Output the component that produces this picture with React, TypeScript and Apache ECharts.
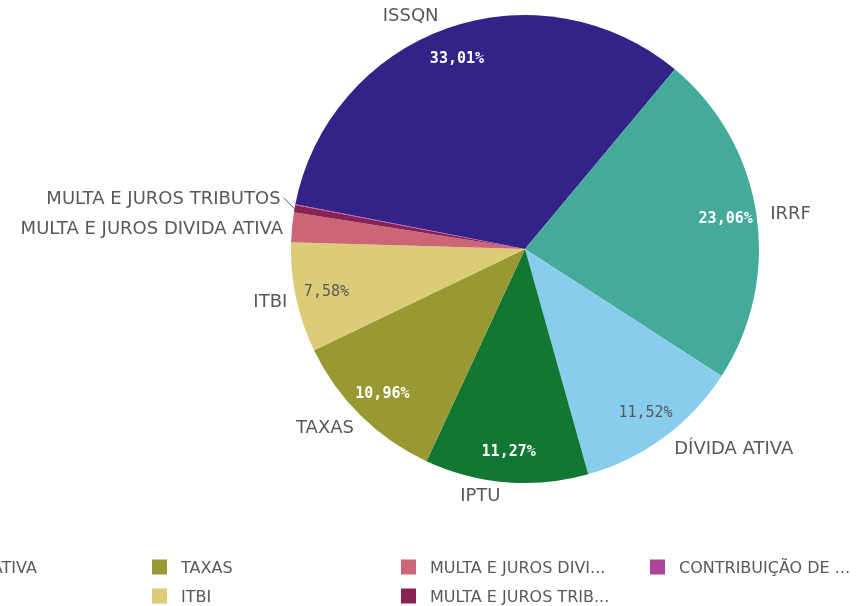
import React, { useEffect, useRef } from "react";
import * as echarts from "echarts";

const categories = [
  "ISSQN",
  "IRRF",
  "DÍVIDA ATIVA",
  "IPTU",
  "TAXAS",
  "ITBI",
  "MULTA E JUROS DIVIDA ATIVA",
  "MULTA E JUROS TRIBUTOS",
  "CONTRIBUIÇÃO DE MELHORIA",
];
const shares = [33.01, 23.06, 11.52, 11.27, 10.96, 7.58, 2.05, 0.5, 0.05];
const colors = [
  "#332288",
  "#44AA99",
  "#88CCEE",
  "#117733",
  "#999933",
  "#DDCC77",
  "#CC6677",
  "#882255",
  "#AA4499",
];
const percentLabelColors = ["#ffffff", "#ffffff", "#595959", "#ffffff", "#ffffff", "#595959", "", "", ""];
const showPercent = [true, true, true, true, true, true, false, false, false];
const showName = [true, true, true, true, true, true, true, true, false];
const legendColumns = [
  ["ISSQN", "IRRF"],
  ["DÍVIDA ATIVA", "IPTU"],
  ["TAXAS", "ITBI"],
  ["MULTA E JUROS DIVIDA ATIVA", "MULTA E JUROS TRIBUTOS"],
  ["CONTRIBUIÇÃO DE MELHORIA"],
];
const legendLefts = [-347, -98, 152, 401, 650];
// small vertical nudges of the outside name labels
const nameLabelDy = [-6, 0, 3, 3, 5, 1, 0, -10, 0];

const fmt = (v: number) => v.toFixed(2).replace(".", ",") + "%";

export default function App() {
  const ref = useRef<HTMLDivElement>(null);
  useEffect(() => {
    document.body.style.margin = "0";
    const chart = echarts.init(ref.current!, null, { renderer: "svg" });
    const center = [525, 249];
    const R = 234;
    chart.setOption({
      animation: false,
      color: colors,
      legend: legendColumns.map((col, i) => ({
        data: col,
        orient: "vertical",
        left: legendLefts[i],
        top: 558,
        padding: 0,
        itemGap: 11,
        itemWidth: 15,
        itemHeight: 15,
        icon: "rect",
        selectedMode: false,
        textStyle: {
          fontFamily: "DejaVu Sans",
          fontSize: 16,
          color: "#595959",
          lineHeight: 18,
          width: 181,
          overflow: "truncate",
          ellipsis: "...",
          padding: [0, 0, 0, 9],
        },
      })),
      series: [
        {
          type: "pie",
          center,
          radius: [0, R],
          startAngle: 169,
          clockwise: true,
          avoidLabelOverlap: true,
          itemStyle: { borderWidth: 0 },
          label: {
            show: true,
            position: "outside",
            formatter: "{b}",
            fontFamily: "DejaVu Sans",
            fontSize: 18,
            color: "#595959",
            distanceToLabelLine: 5,
          },
          labelLine: {
            show: false,
            length: 9,
            length2: 0,
            lineStyle: { color: "#595959", width: 1 },
          },
          labelLayout: (params: any) => {
            const i = params.dataIndex;
            const dy = nameLabelDy[i] || 0;
            if (i === 7) {
              const pts = params.labelLinePoints;
              const res: any = { dy, dx: -5 };
              if (pts && pts.length) {
                const p0 = pts[0];
                const p1 = [p0[0] - 11, p0[1] - 11];
                res.labelLinePoints = [p0, p1, p1];
              }
              return res;
            }
            return { dy };
          },
          emphasis: { disabled: true },
          data: categories.map((name, i) => ({
            name,
            value: shares[i],
            label: { show: showName[i] },
            labelLine: { show: name === "MULTA E JUROS TRIBUTOS" },
          })),
        },
        {
          type: "pie",
          center,
          radius: [166, R],
          startAngle: 169,
          clockwise: true,
          silent: true,
          itemStyle: { color: "transparent", borderWidth: 0 },
          label: {
            show: true,
            position: "inside",
            fontFamily: "DejaVu Sans Mono",
            fontSize: 15,
            formatter: (p: any) => fmt(p.value),
          },
          labelLine: { show: false },
          emphasis: { disabled: true },
          data: categories.map((name, i) => ({
            name,
            value: shares[i],
            label: {
              show: showPercent[i],
              color: percentLabelColors[i] || "#595959",
              fontWeight: percentLabelColors[i] === "#ffffff" ? "bold" : "normal",
            },
          })),
        },
      ],
    });
    return () => chart.dispose();
  }, []);
  return <div ref={ref} style={{ position: "fixed", left: 0, top: 0, width: 866, height: 606 }} />;
}
